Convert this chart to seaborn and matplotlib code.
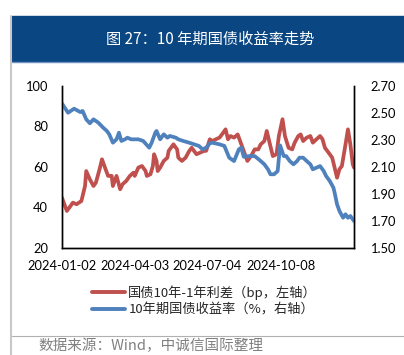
import matplotlib
matplotlib.use('Agg')
import matplotlib.pyplot as plt
import matplotlib.lines as mlines
import matplotlib.patches as mpatches
import pandas as pd
import seaborn as sns

# 交易日序号（2024-01-02 为 0）与读数
red_day = [0, 4, 6, 9, 12, 16, 19, 20, 23, 26, 28, 31, 33, 35, 38, 41, 42, 45, 48, 50,
           53, 56, 59, 60, 63, 66, 69, 70, 73, 75, 76, 78, 79, 81, 84, 87, 88, 91, 92, 95,
           96, 99, 102, 105, 107, 109, 111, 114, 117, 119, 122, 124, 127, 130, 133, 135, 137, 139, 142, 145,
           148, 150, 153, 156, 159, 162, 164, 167, 169, 171, 174, 177, 179, 182, 184, 187, 190, 192, 195, 197,
           199, 202, 205, 207, 210, 213, 215, 217, 220, 223, 225, 227, 229, 231, 234, 236, 238, 240, 241]
spread_bp = [44.8, 38.3, 39.9, 42.4, 41.6, 43.2, 50.6, 58.0, 53.9, 50.6, 52.3, 58.9, 63.8, 60.5, 55.6, 55.6, 50.6, 55.6, 49.0, 51.5,
             53.1, 55.6, 57.2, 55.6, 59.7, 60.5, 58.0, 55.6, 56.4, 60.5, 66.3, 63.0, 58.0, 59.7, 63.0, 64.6, 67.9, 70.4, 71.2, 68.7,
             64.6, 63.0, 64.6, 67.9, 69.5, 67.9, 66.3, 67.1, 67.9, 68.0, 73.7, 72.8, 73.7, 74.5, 76.9, 78.6, 73.7, 75.3, 74.5, 76.1,
             71.2, 67.9, 63.0, 65.4, 68.7, 68.7, 71.2, 72.8, 77.8, 72.8, 65.4, 66.3, 75.3, 83.6, 75.3, 69.5, 68.7, 72.0, 75.3, 76.1,
             72.8, 74.5, 75.3, 72.0, 73.7, 75.3, 73.7, 69.5, 67.1, 64.6, 59.7, 54.7, 58.9, 60.5, 71.2, 78.6, 71.2, 61.3, 59.7]

blue_day = [0, 5, 10, 15, 17, 20, 23, 26, 30, 34, 37, 39, 42, 45, 47, 49, 52, 54, 57, 61,
            63, 67, 72, 74, 77, 78, 81, 84, 87, 89, 94, 96, 100, 105, 109, 113, 116, 119, 122, 124,
            130, 134, 138, 142, 146, 148, 150, 155, 159, 163, 167, 170, 172, 175, 178, 180, 183, 185, 188, 191,
            194, 196, 199, 202, 205, 207, 210, 213, 216, 218, 221, 224, 225, 227, 229, 232, 234, 236, 238, 241]
yield_10y = [2.570, 2.502, 2.532, 2.507, 2.515, 2.453, 2.424, 2.453, 2.428, 2.391, 2.367, 2.342, 2.280, 2.305, 2.354, 2.293, 2.305, 2.317, 2.305, 2.305,
             2.305, 2.293, 2.243, 2.280, 2.354, 2.367, 2.305, 2.342, 2.317, 2.330, 2.317, 2.305, 2.293, 2.280, 2.268, 2.256, 2.231, 2.243, 2.275, 2.280,
             2.268, 2.256, 2.169, 2.144, 2.231, 2.243, 2.176, 2.181, 2.181, 2.152, 2.120, 2.083, 2.046, 2.046, 2.070, 2.260, 2.181, 2.181, 2.144, 2.120,
             2.144, 2.169, 2.169, 2.144, 2.120, 2.083, 2.095, 2.107, 2.070, 2.033, 1.996, 1.947, 1.910, 1.824, 1.774, 1.724, 1.750, 1.724, 1.737, 1.700]

tick_labels = ['2024-01-02', '2024-04-03', '2024-07-04', '2024-10-08']
holidays = ['2024-02-09', '2024-02-12', '2024-02-13', '2024-02-14', '2024-02-15', '2024-02-16',
            '2024-04-04', '2024-04-05', '2024-05-01', '2024-05-02', '2024-05-03', '2024-06-10',
            '2024-09-16', '2024-09-17', '2024-10-01', '2024-10-02', '2024-10-03', '2024-10-04', '2024-10-07']

red_label = '国债10年-1年利差（bp，左轴）'
blue_label = '10年期国债收益率（%，右轴）'
title = '图 27：10 年期国债收益率走势'
source = '数据来源：Wind，中诚信国际整理'

RED = '#C0504D'
BLUE = '#4F81BD'

sns.set_style('white')
plt.rcParams['font.family'] = ['Lato', 'Noto Sans CJK SC', 'DejaVu Sans']
cjk = ['Noto Sans CJK SC', 'DejaVu Sans']

cal = pd.bdate_range('2024-01-02', '2024-12-31').drop(pd.to_datetime(holidays))
tick_pos = cal.get_indexer(pd.to_datetime(tick_labels))

fig = plt.figure(figsize=(4.04, 3.55), dpi=100)
ax = fig.add_axes([62 / 404, 1 - 248 / 355, 292 / 404, 162 / 355])
ax2 = ax.twinx()

sns.lineplot(x=red_day, y=spread_bp, ax=ax, color=RED, linewidth=2.7, label=red_label, legend=False)
sns.lineplot(x=blue_day, y=yield_10y, ax=ax2, color=BLUE, linewidth=2.7, label=blue_label, legend=False)

ax.set_xlim(0, len(cal) - 1)
ax.set_ylim(20, 100)
ax.set_yticks(range(20, 101, 20))
ax2.set_ylim(1.5, 2.7)
ax2.set_yticks([1.5, 1.7, 1.9, 2.1, 2.3, 2.5, 2.7])
ax2.set_yticklabels([f'{v:.2f}' for v in ax2.get_yticks()])
ax.set_xticks(tick_pos)
ax.set_xticklabels(tick_labels)

for a in (ax, ax2):
    a.set_xlabel('')
    a.set_ylabel('')
    a.tick_params(length=0, labelsize=9.3, colors='black')
    for side in ('left', 'right', 'bottom'):
        a.spines[side].set_visible(True)
        a.spines[side].set_color('black')
        a.spines[side].set_linewidth(1.0)
    a.spines['top'].set_visible(False)
ax.tick_params(axis='y', pad=10)
ax2.tick_params(axis='y', pad=12)
ax.tick_params(axis='x', pad=9)

# 图例
handles = [mlines.Line2D([], [], color=RED, linewidth=2.8),
           mlines.Line2D([], [], color=BLUE, linewidth=2.8)]
fig.legend(handles, [red_label, blue_label], loc='upper left',
           bbox_to_anchor=(92 / 404, 1 - 285 / 355), frameon=False,
           prop={'family': cjk, 'size': 9.5}, handlelength=2.5, handletextpad=0.25,
           labelspacing=0.3, borderpad=0, borderaxespad=0)

# 标题栏
fig.patches.append(mpatches.Rectangle((12 / 404, 1 - 61 / 355), 392 / 404, 45 / 355,
                                      transform=fig.transFigure, color='#0A4682', zorder=0))
fig.lines.append(mlines.Line2D([12 / 404, 1], [1 - 61.5 / 355] * 2, transform=fig.transFigure,
                               color='#6F93C0', linewidth=1))
fig.text(210 / 404, 1 - 39 / 355, title, color='white', ha='center', va='center',
         family=cjk, fontsize=11)

# 左侧灰线与底部分隔线
fig.lines.append(mlines.Line2D([10.5 / 404] * 2, [0, 1 - 16 / 355], transform=fig.transFigure,
                               color='#C8C8C8', linewidth=1.5))
fig.lines.append(mlines.Line2D([12 / 404, 1], [1 - 335.5 / 355] * 2, transform=fig.transFigure,
                               color='#B0B0B0', linewidth=0.8))
fig.text(38 / 404, 1 - 346 / 355, source, color='#808080', ha='left', va='center',
         family=cjk, fontsize=10.5)

fig.savefig('out.png', dpi=100)
